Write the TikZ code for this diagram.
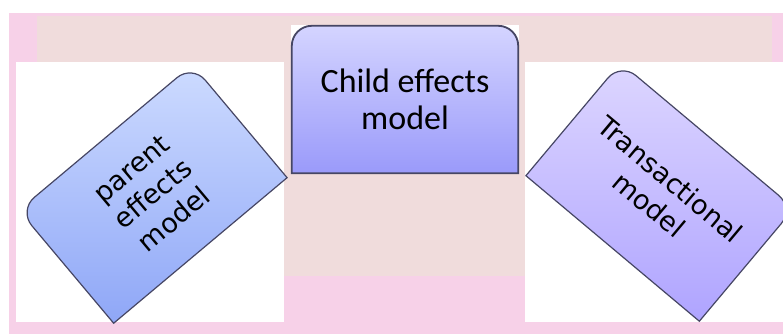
\documentclass[tikz,border=0pt]{standalone}
\usepackage{fontspec}
\setmainfont{Carlito}
\newfontfamily\dejavu{DejaVu Sans}
\usepackage{tikz}

\definecolor{outerpink}{RGB}{247,209,232}
\definecolor{dustpink}{RGB}{240,220,220}
\definecolor{boxline}{RGB}{70,70,100}

\begin{document}
\begin{tikzpicture}[x=1pt, y=1pt]
    \tikzstyle{modelbox} = [rectangle, inner sep=0pt, minimum width=226pt, minimum height=147pt]
    \tikzstyle{outline} = [draw=boxline, line width=1.2pt, rounded corners=20pt]
    \tikzstyle{tilted} = [align=center, font=\dejavu\fontsize{27}{33}\selectfont]

    \useasboundingbox (0,0) rectangle (783,334);

    % Backdrop
    \fill[outerpink] (9,0) rectangle (783,321);
    \fill[dustpink] (37,272) rectangle (772,318);
    \fill[dustpink] (284,58) rectangle (525,272);
    \fill[white] (16,12) rectangle (284,272);
    \fill[white] (525,12) rectangle (783,272);
    \fill[white] (291,160) rectangle (519,309);

    % Boxes
    \node[modelbox] (child) at (405,234.5) {};
    \node[modelbox, rotate=40] (parent) at (153,140) {};
    \node[modelbox, rotate=-40] (trans) at (660,142) {};

    \draw[outline, line width=1.8pt, top color={rgb,255:red,212;green,212;blue,255}, bottom color={rgb,255:red,154;green,154;blue,250}]
        (child.south west) [rounded corners=20pt] -- (child.north west) -- (child.north east) [sharp corners] -- (child.south east) -- cycle;
    \draw[outline, top color={rgb,255:red,205;green,219;blue,255}, bottom color={rgb,255:red,143;green,167;blue,247}]
        (parent.south west) [rounded corners=20pt] -- (parent.north west) -- (parent.north east) [sharp corners] -- (parent.south east) -- cycle;
    \draw[outline, top color={rgb,255:red,221;green,214;blue,255}, bottom color={rgb,255:red,175;green,164;blue,255}]
        (trans.south west) [rounded corners=20pt] -- (trans.north west) -- (trans.north east) [sharp corners] -- (trans.south east) -- cycle;

    % Labels
    \node[align=center, font=\fontsize{34}{37}\selectfont] (childtext) at (child) {Child effects\\model};
    \node[tilted, rotate=40] (parenttext) at (parent) {parent\\effects\\model};
    \node[tilted, rotate=-40] (transtext) at (trans) {Transactional\\model};

\end{tikzpicture}
\end{document}
